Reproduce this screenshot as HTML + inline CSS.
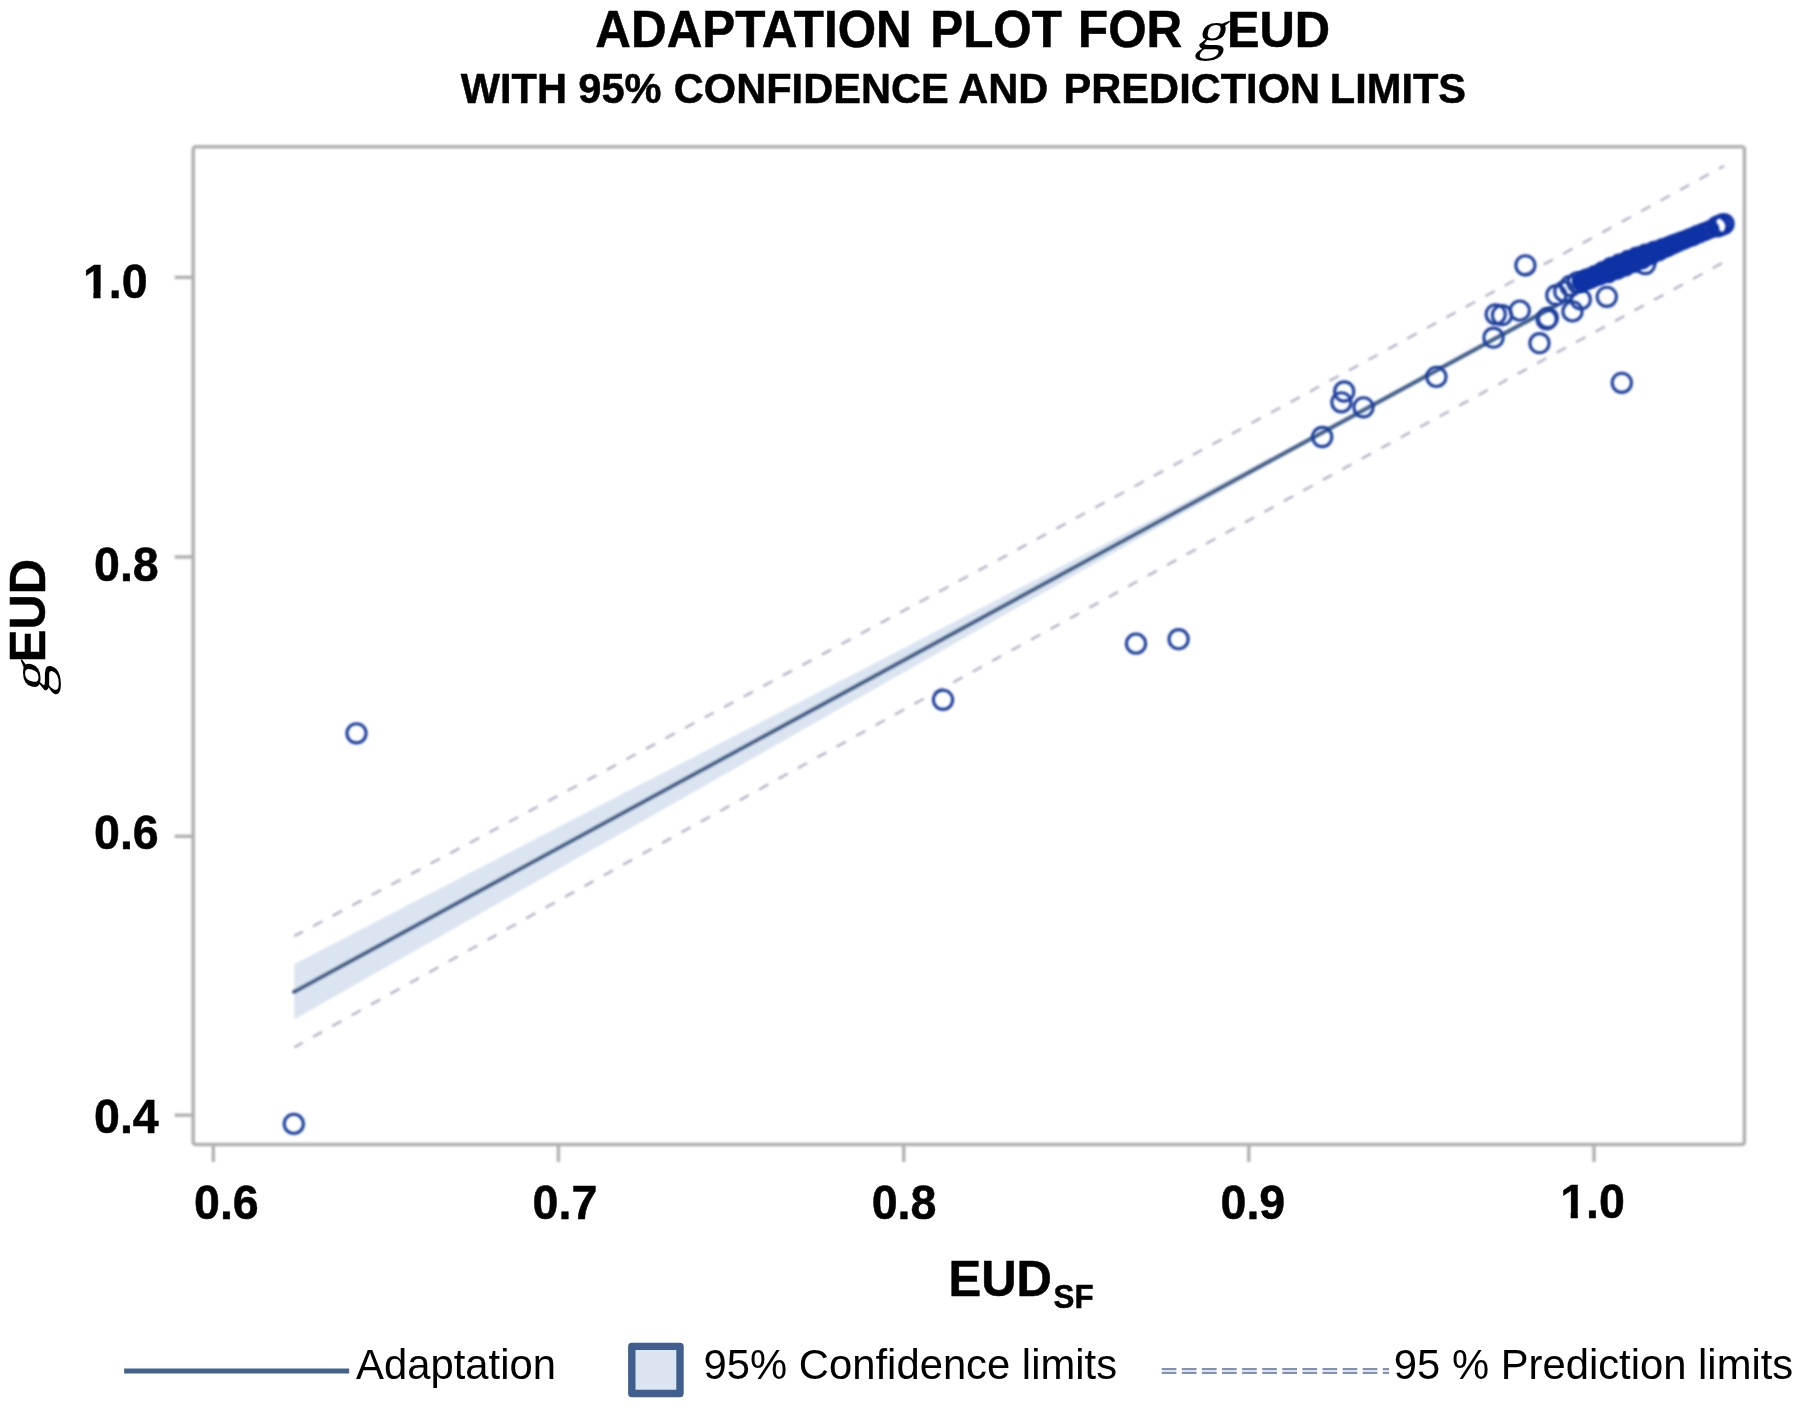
<!DOCTYPE html>
<html lang="en"><head><meta charset="utf-8"><title>Adaptation plot for gEUD</title>
<style>
html,body{margin:0;padding:0;background:#fff;}
body{width:1806px;height:1416px;overflow:hidden;position:relative;}
svg{position:absolute;left:0;top:0;display:block;}
text{font-family:"Liberation Sans",Arial,Helvetica,sans-serif;fill:#000;}
.b{font-weight:bold;stroke:#000;stroke-width:0.5px;stroke-linejoin:round;}
.g{font-family:"Liberation Serif","Times New Roman",Times,serif;font-weight:normal;}
</style></head><body>
<svg width="1806" height="1416" viewBox="0 0 1806 1416">
<defs>
<filter id="bl" x="-5%" y="-5%" width="110%" height="110%"><feGaussianBlur stdDeviation="1.0"/></filter>
<filter id="bp" x="-5%" y="-5%" width="110%" height="110%"><feGaussianBlur stdDeviation="0.9"/></filter>
<clipPath id="one"><path d="M-6,-60H140V12H25.9V-6.3H17.6V12H10.5V-6.3H-6Z"/></clipPath>
<filter id="bt" x="-5%" y="-20%" width="110%" height="140%"><feGaussianBlur stdDeviation="0.55"/></filter>
</defs>
<rect width="1806" height="1416" fill="#fff"/>

<g filter="url(#bt)" id="title">
<text class="b" transform="translate(595.3,46.5) scale(1,1.035)" font-size="49.4">ADAPTATION</text> <text class="b" transform="translate(930.2,46.5) scale(1,1.035)" font-size="49.4">PLOT</text> <text class="b" transform="translate(1078.0,46.5) scale(1,1.035)" font-size="49.4">FOR</text> <text class="g" transform="translate(1194.4,48.9) scale(1.11,1) skewX(-14)" font-size="55.2">g</text><text class="b" transform="translate(1226.9,46.5) scale(1,1.035)" font-size="48.9">EUD</text>
<text class="b" transform="translate(460.8,102.5) scale(1,1.02)" font-size="41.6">WITH</text> <text class="b" transform="translate(578.3,102.5) scale(1,1.02)" font-size="41.6">95%</text> <text class="b" transform="translate(673.8,102.5) scale(1,1.02)" font-size="41.6">CONFIDENCE</text> <text class="b" transform="translate(958.2,102.5) scale(1,1.02)" font-size="41.6">AND</text> <text class="b" transform="translate(1063.6,102.5) scale(1,1.02)" font-size="41.6">PREDICTION</text> <text class="b" transform="translate(1329.8,102.5) scale(1,1.02)" font-size="41.6">LIMITS</text>
</g>
<g filter="url(#bl)">
<polygon points="294.2,964.1 315.2,953.2 336.3,942.3 357.3,931.4 378.3,920.5 399.4,909.6 420.4,898.6 441.4,887.7 462.4,876.8 483.5,865.9 504.5,855.0 525.5,844.1 546.6,833.2 567.6,822.3 588.6,811.4 609.6,800.5 630.7,789.6 651.7,778.7 672.7,767.8 693.8,756.9 714.8,746.0 735.8,735.1 756.9,724.2 777.9,713.3 798.9,702.4 820.0,691.5 841.0,680.6 862.0,669.7 883.0,658.8 904.1,647.9 925.1,637.0 946.1,626.0 967.2,615.1 988.2,604.2 1009.2,593.3 1030.2,582.4 1051.3,571.5 1072.3,560.6 1093.3,549.7 1114.4,538.8 1135.4,527.8 1156.4,516.9 1177.5,506.0 1198.5,495.1 1219.5,484.1 1240.5,473.2 1261.6,462.3 1282.6,451.3 1303.6,440.3 1324.7,429.2 1345.7,418.1 1366.7,406.8 1387.8,395.4 1408.8,384.0 1429.8,372.5 1450.9,361.1 1471.9,349.6 1492.9,338.2 1513.9,326.8 1535.0,315.3 1556.0,303.9 1556.0,306.9 1535.0,318.3 1513.9,329.8 1492.9,341.2 1471.9,352.6 1450.9,364.1 1429.8,375.5 1408.8,387.0 1387.8,398.4 1366.7,409.9 1345.7,421.5 1324.7,433.2 1303.6,445.0 1282.6,456.9 1261.6,468.8 1240.5,480.8 1219.5,492.7 1198.5,504.7 1177.5,516.6 1156.4,528.6 1135.4,540.5 1114.4,552.5 1093.3,564.5 1072.3,576.4 1051.3,588.4 1030.2,600.4 1009.2,612.3 988.2,624.3 967.2,636.3 946.1,648.3 925.1,660.2 904.1,672.2 883.0,684.2 862.0,696.2 841.0,708.1 820.0,720.1 798.9,732.1 777.9,744.1 756.9,756.0 735.8,768.0 714.8,780.0 693.8,792.0 672.7,803.9 651.7,815.9 630.7,827.9 609.6,839.9 588.6,851.8 567.6,863.8 546.6,875.8 525.5,887.8 504.5,899.8 483.5,911.7 462.4,923.7 441.4,935.7 420.4,947.7 399.4,959.6 378.3,971.6 357.3,983.6 336.3,995.6 315.2,1007.6 294.2,1019.5" fill="#dbe5f1"/>
<polyline points="294.2,936.2 318.0,923.6 341.9,910.9 365.7,898.2 389.5,885.6 413.4,872.9 437.2,860.2 461.0,847.5 484.8,834.8 508.7,822.1 532.5,809.4 556.3,796.7 580.2,784.0 604.0,771.3 627.8,758.5 651.6,745.8 675.5,733.1 699.3,720.3 723.1,707.6 747.0,694.8 770.8,682.0 794.6,669.3 818.5,656.5 842.3,643.7 866.1,630.9 890.0,618.1 913.8,605.3 937.6,592.5 961.4,579.7 985.3,566.9 1009.1,554.1 1032.9,541.2 1056.8,528.4 1080.6,515.5 1104.4,502.7 1128.2,489.8 1152.1,476.9 1175.9,464.1 1199.7,451.2 1223.6,438.3 1247.4,425.4 1271.2,412.5 1295.1,399.6 1318.9,386.7 1342.7,373.7 1366.5,360.8 1390.4,347.9 1414.2,334.9 1438.0,322.0 1461.9,309.0 1485.7,296.0 1509.5,283.0 1533.4,270.1 1557.2,257.1 1581.0,244.1 1604.9,231.1 1628.7,218.0 1652.5,205.0 1676.3,192.0 1700.2,178.9 1724.0,165.9" fill="none" stroke="#b9b6cb" stroke-width="2.5" stroke-dasharray="10.6 11.58" stroke-dashoffset="0.8"/>
<polyline points="294.2,1047.4 318.0,1034.1 341.9,1020.8 365.7,1007.6 389.5,994.3 413.4,981.1 437.2,967.8 461.0,954.6 484.8,941.4 508.7,928.1 532.5,914.9 556.3,901.7 580.2,888.5 604.0,875.3 627.8,862.1 651.6,848.9 675.5,835.7 699.3,822.5 723.1,809.4 747.0,796.2 770.8,783.0 794.6,769.9 818.5,756.7 842.3,743.6 866.1,730.4 890.0,717.3 913.8,704.2 937.6,691.1 961.4,677.9 985.3,664.8 1009.1,651.7 1032.9,638.6 1056.8,625.6 1080.6,612.5 1104.4,599.4 1128.2,586.3 1152.1,573.3 1175.9,560.2 1199.7,547.2 1223.6,534.2 1247.4,521.1 1271.2,508.1 1295.1,495.1 1318.9,482.1 1342.7,469.1 1366.5,456.1 1390.4,443.1 1414.2,430.1 1438.0,417.2 1461.9,404.2 1485.7,391.2 1509.5,378.3 1533.4,365.3 1557.2,352.4 1581.0,339.5 1604.9,326.6 1628.7,313.6 1652.5,300.7 1676.3,287.8 1700.2,275.0 1724.0,262.1" fill="none" stroke="#b9b6cb" stroke-width="2.5" stroke-dasharray="10.6 11.58" stroke-dashoffset="0.8"/>
<line x1="294.2" y1="991.8" x2="1556.0" y2="305.4" stroke="#45628d" stroke-width="4.3" stroke-linecap="round"/>
<rect x="193.2" y="146.8" width="1551.2" height="997.6" fill="none" stroke="#b0b0b0" stroke-width="3.5" rx="2.5"/>
<line x1="213.3" y1="1144.4" x2="213.3" y2="1161.9" stroke="#b0b0b0" stroke-width="3.4"/>
<line x1="558.4" y1="1144.4" x2="558.4" y2="1161.9" stroke="#b0b0b0" stroke-width="3.4"/>
<line x1="903.8" y1="1144.4" x2="903.8" y2="1161.9" stroke="#b0b0b0" stroke-width="3.4"/>
<line x1="1248.8" y1="1144.4" x2="1248.8" y2="1161.9" stroke="#b0b0b0" stroke-width="3.4"/>
<line x1="1594.0" y1="1144.4" x2="1594.0" y2="1161.9" stroke="#b0b0b0" stroke-width="3.4"/>
<line x1="174.7" y1="277.4" x2="193.2" y2="277.4" stroke="#b0b0b0" stroke-width="3.4"/>
<line x1="174.7" y1="557.0" x2="193.2" y2="557.0" stroke="#b0b0b0" stroke-width="3.4"/>
<line x1="174.7" y1="836.3" x2="193.2" y2="836.3" stroke="#b0b0b0" stroke-width="3.4"/>
<line x1="174.7" y1="1115.2" x2="193.2" y2="1115.2" stroke="#b0b0b0" stroke-width="3.4"/>
</g>
<g fill="none" stroke="#1f3f9d" stroke-width="3.1" filter="url(#bp)" id="pts">
<circle cx="293.8" cy="1123.9" r="9.6"/>
<circle cx="356.5" cy="733.3" r="9.6"/>
<circle cx="943.0" cy="699.8" r="9.6"/>
<circle cx="1136.0" cy="643.6" r="9.6"/>
<circle cx="1178.6" cy="639.2" r="9.6"/>
<circle cx="1322.2" cy="437.0" r="9.6"/>
<circle cx="1344.2" cy="391.5" r="9.6"/>
<circle cx="1341.4" cy="402.3" r="9.6"/>
<circle cx="1363.5" cy="407.3" r="9.6"/>
<circle cx="1436.4" cy="376.9" r="9.6"/>
<circle cx="1493.5" cy="337.7" r="9.6"/>
<circle cx="1495.7" cy="314.3" r="9.6"/>
<circle cx="1502.0" cy="315.2" r="9.6"/>
<circle cx="1519.8" cy="310.6" r="9.6"/>
<circle cx="1525.4" cy="265.3" r="9.6"/>
<circle cx="1539.5" cy="343.2" r="9.6"/>
<circle cx="1547.8" cy="318.0" r="9.6"/>
<circle cx="1546.6" cy="319.3" r="9.6"/>
<circle cx="1556.3" cy="295.2" r="9.6"/>
<circle cx="1564.3" cy="291.5" r="9.6"/>
<circle cx="1570.5" cy="286.0" r="9.6"/>
<circle cx="1577.5" cy="282.5" r="9.6"/>
<circle cx="1572.5" cy="311.4" r="9.6"/>
<circle cx="1580.8" cy="299.4" r="9.6"/>
<circle cx="1606.8" cy="296.8" r="9.6"/>
<circle cx="1621.8" cy="382.8" r="9.6"/>
<circle cx="1645.2" cy="264.0" r="9.6"/>
</g>
<g fill="none" stroke="#0d33a5" stroke-width="3.2" filter="url(#bp)" id="blob">
<circle cx="1582.0" cy="281.4" r="8.9"/><circle cx="1584.3" cy="280.5" r="8.9"/><circle cx="1586.7" cy="279.8" r="8.9"/><circle cx="1588.9" cy="278.6" r="8.9"/><circle cx="1591.2" cy="277.7" r="8.9"/><circle cx="1593.5" cy="276.8" r="8.9"/>
<circle cx="1595.7" cy="275.6" r="8.9"/><circle cx="1598.1" cy="274.9" r="8.9"/><circle cx="1600.5" cy="274.1" r="8.9"/><circle cx="1602.9" cy="273.4" r="8.9"/><circle cx="1604.7" cy="271.4" r="8.9"/><circle cx="1607.1" cy="270.8" r="8.9"/>
<circle cx="1609.2" cy="269.3" r="8.9"/><circle cx="1612.2" cy="270.0" r="8.9"/><circle cx="1614.4" cy="268.8" r="8.9"/><circle cx="1616.1" cy="266.4" r="8.9"/><circle cx="1619.2" cy="267.5" r="8.9"/><circle cx="1621.5" cy="266.6" r="8.9"/>
<circle cx="1623.5" cy="264.9" r="8.9"/><circle cx="1625.8" cy="263.9" r="8.9"/><circle cx="1627.7" cy="262.0" r="8.9"/><circle cx="1629.9" cy="260.7" r="8.9"/><circle cx="1632.6" cy="260.9" r="8.9"/><circle cx="1634.5" cy="258.9" r="8.9"/>
<circle cx="1636.9" cy="258.4" r="8.9"/><circle cx="1639.3" cy="257.6" r="8.9"/><circle cx="1641.5" cy="256.3" r="8.9"/><circle cx="1644.1" cy="256.1" r="8.9"/><circle cx="1646.4" cy="255.2" r="8.9"/><circle cx="1648.9" cy="254.8" r="8.9"/>
<circle cx="1651.0" cy="253.4" r="8.9"/><circle cx="1653.4" cy="252.6" r="8.9"/><circle cx="1655.6" cy="251.5" r="8.9"/><circle cx="1657.9" cy="250.7" r="8.8"/><circle cx="1660.2" cy="249.7" r="8.7"/><circle cx="1662.5" cy="248.7" r="8.7"/>
<circle cx="1664.9" cy="248.0" r="8.6"/><circle cx="1667.2" cy="247.0" r="8.5"/><circle cx="1669.4" cy="246.0" r="8.4"/><circle cx="1671.7" cy="245.1" r="8.3"/><circle cx="1674.0" cy="244.0" r="8.3"/><circle cx="1676.3" cy="243.1" r="8.2"/>
<circle cx="1678.6" cy="242.1" r="8.1"/><circle cx="1680.8" cy="241.1" r="8.0"/><circle cx="1683.2" cy="240.4" r="8.0"/><circle cx="1685.5" cy="239.4" r="7.9"/><circle cx="1687.8" cy="238.6" r="7.9"/><circle cx="1690.1" cy="237.5" r="7.9"/>
<circle cx="1692.5" cy="236.7" r="7.9"/><circle cx="1694.7" cy="235.8" r="7.9"/><circle cx="1696.9" cy="234.6" r="7.9"/><circle cx="1582.2" cy="281.9" r="8.9"/><circle cx="1590.7" cy="278.4" r="8.9"/><circle cx="1599.3" cy="275.3" r="8.9"/>
<circle cx="1608.2" cy="272.8" r="8.9"/><circle cx="1616.8" cy="269.6" r="8.9"/><circle cx="1625.3" cy="266.2" r="8.9"/><circle cx="1633.8" cy="262.7" r="8.9"/><circle cx="1642.2" cy="258.9" r="8.9"/><circle cx="1650.4" cy="254.8" r="8.9"/>
<circle cx="1658.7" cy="250.8" r="8.8"/><circle cx="1667.1" cy="247.2" r="8.5"/><circle cx="1586.3" cy="279.1" r="8.9"/><circle cx="1594.8" cy="275.7" r="8.9"/><circle cx="1603.0" cy="271.4" r="8.9"/><circle cx="1611.2" cy="267.2" r="8.9"/>
<circle cx="1619.7" cy="263.7" r="8.9"/><circle cx="1628.2" cy="260.3" r="8.9"/><circle cx="1636.7" cy="257.0" r="8.9"/><circle cx="1645.5" cy="254.1" r="8.9"/><circle cx="1654.2" cy="251.2" r="8.9"/><circle cx="1662.9" cy="248.3" r="8.6"/>
<circle cx="1671.4" cy="244.8" r="8.3"/><circle cx="1699.5" cy="233.7" r="7.9"/><circle cx="1703.0" cy="232.3" r="7.9"/><circle cx="1706.5" cy="230.9" r="7.9"/><circle cx="1710.0" cy="229.5" r="7.9"/><circle cx="1717.5" cy="226.4" r="9.4"/>
<circle cx="1720.6" cy="225.2" r="9.4"/><circle cx="1723.7" cy="223.9" r="9.4"/>
</g>
<g filter="url(#bt)">
<text class="b" transform="translate(194.0,1218.6) scale(1,1.035)" font-size="46.6">0.6</text>
<text class="b" transform="translate(532.6,1218.6) scale(1,1.035)" font-size="46.6">0.7</text>
<text class="b" transform="translate(871.7,1218.6) scale(1,1.035)" font-size="46.6">0.8</text>
<text class="b" transform="translate(1220.5,1218.6) scale(1,1.035)" font-size="46.6">0.9</text>
<text class="b" transform="translate(1560.2,1217.8) scale(1,1.035)" font-size="46.6" clip-path="url(#one)">1.0</text>
<text class="b" transform="translate(82.9,297.8) scale(1,1.035)" font-size="46.6" clip-path="url(#one)">1.0</text>
<text class="b" transform="translate(94.0,580.8) scale(1,1.035)" font-size="46.6">0.8</text>
<text class="b" transform="translate(94.0,849.3) scale(1,1.035)" font-size="46.6">0.6</text>
<text class="b" transform="translate(94.0,1132.7) scale(1,1.035)" font-size="46.6">0.4</text>
<text class="b" transform="translate(948.5,1295.9) scale(1,1.035)" font-size="49">EUD</text><text class="b" transform="translate(1053.6,1308.3) scale(1,1.035)" font-size="31.3">SF</text>
<text class="g" transform="translate(48.6,694.9) rotate(-90) scale(1.11,1) skewX(-14)" font-size="55.2">g</text><text class="b" transform="translate(44.8,662.2) rotate(-90) scale(1,1.035)" font-size="48.9" id="yl">EUD</text>
<text transform="translate(356.1,1379.0) scale(1,1.025)" font-size="41.8">Adaptation</text>
<text transform="translate(703.6,1379.0) scale(1,1.025)" font-size="41.8">95% Confidence limits</text>
<text transform="translate(1393.8,1379.0) scale(1,1.025)" font-size="41.8">95 % Prediction limits</text>
</g>
<g filter="url(#bt)">
<line x1="124.1" y1="1371" x2="349.2" y2="1371" stroke="#45628d" stroke-width="5"/>
<rect x="631.8" y="1346.4" width="48.2" height="47.1" fill="#dbe5f1" stroke="#3f5e8f" stroke-width="7.4" stroke-linejoin="round"/>
<line x1="1161.7" y1="1369.1" x2="1389" y2="1369.1" stroke="#8092b3" stroke-width="2.3" stroke-dasharray="14.7 5.4"/>
<line x1="1161.7" y1="1372.9" x2="1389" y2="1372.9" stroke="#8092b3" stroke-width="2.3" stroke-dasharray="14.7 5.4"/>
</g>
</svg></body></html>
